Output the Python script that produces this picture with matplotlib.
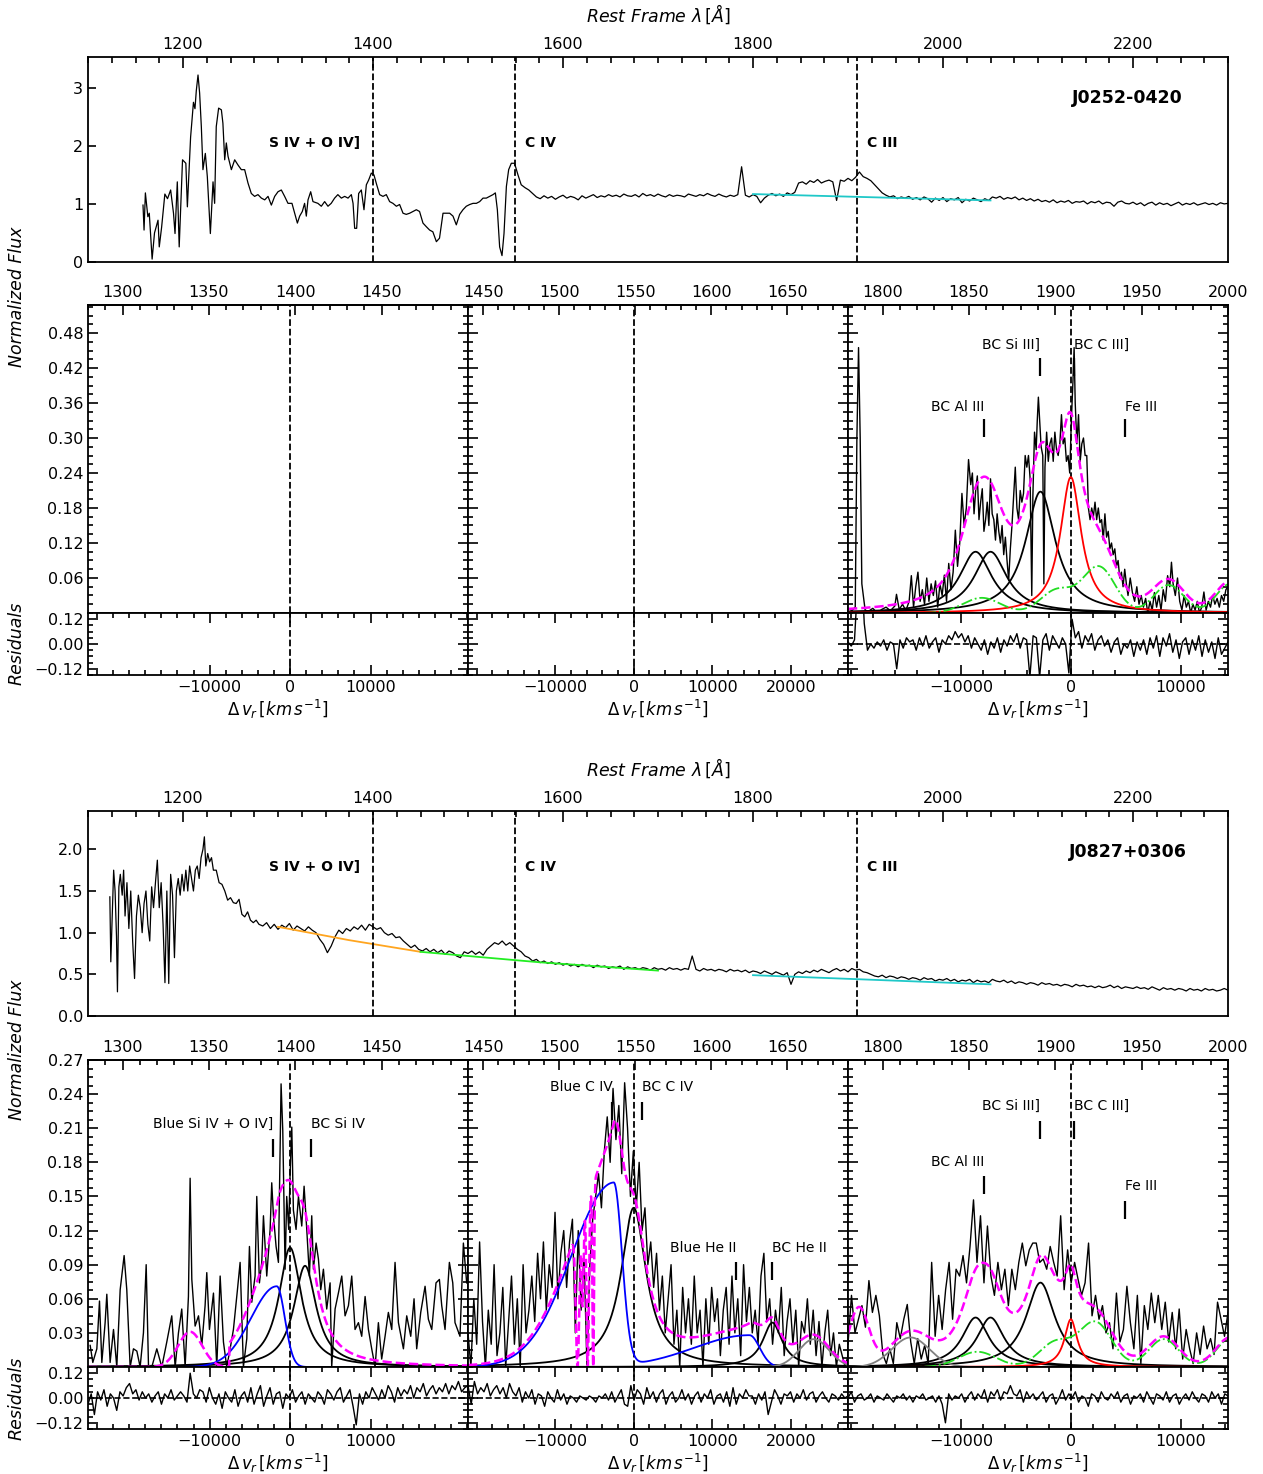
import numpy as np
import matplotlib.pyplot as plt
from matplotlib.ticker import MultipleLocator, AutoMinorLocator, FixedLocator

plt.rcParams['axes.linewidth'] = 1.3
plt.rcParams['font.size'] = 11.5

C_KMS = 299792.458
W, H = 1263, 1474

# ---------------- J0252-0420 : full rest-frame spectrum ----------------
j0252_wave_a = [1157.9, 1159.0, 1160.4, 1163.0, 1164.5, 1167.5, 1170.0, 1173.7, 1175.0, 1177.5,
                1180.9, 1183.7, 1187.0, 1190.0, 1191.6, 1194.0, 1196.0, 1199.5, 1203.0, 1204.6,
                1208.0, 1211.0, 1212.6, 1214.0, 1215.8, 1217.5, 1219.3, 1221.0, 1223.5, 1225.6,
                1228.8, 1231.6, 1233.3, 1235.0, 1237.5, 1240.4, 1242.0, 1243.9, 1245.6, 1247.4,
                1250.9, 1254.4, 1257.9, 1261.4, 1264.9, 1268.4, 1271.9, 1275.4, 1278.9, 1282.5,
                1286.0, 1289.5, 1293.0, 1296.5, 1300.0, 1303.5, 1307.0, 1310.5, 1314.7, 1317.5,
                1320.4, 1322.8, 1325.6, 1328.0, 1329.8, 1331.6, 1334.4, 1336.8, 1342.0, 1345.6,
                1349.1, 1352.6, 1356.0, 1359.6, 1363.0, 1366.7, 1370.2, 1373.7, 1377.2, 1379.0,
                1380.7, 1382.8, 1384.9, 1387.7, 1390.5, 1393.0, 1395.4, 1398.2, 1401.0, 1403.9,
                1407.0, 1410.5, 1414.0, 1417.5, 1421.0, 1424.6, 1428.0, 1431.6, 1435.0, 1438.6,
                1442.0, 1445.6, 1449.0, 1452.6, 1456.0, 1459.6, 1463.0, 1466.7, 1470.0, 1473.7,
                1477.2, 1480.7, 1484.2, 1487.7, 1491.2, 1494.7, 1498.2, 1501.8, 1505.3, 1508.8,
                1512.3, 1515.8, 1519.3, 1522.8, 1526.3, 1528.8, 1530.9, 1533.3, 1535.8, 1537.9,
                1540.4, 1542.8, 1545.6, 1549.0, 1552.6, 1556.0, 1560.0]
j0252_flux_a = [0.98, 0.55, 1.19, 0.78, 0.84, 0.05, 0.50, 0.72, 0.26, 0.60,
                1.17, 1.09, 1.24, 0.84, 0.49, 1.38, 0.26, 1.76, 1.70, 0.95,
                2.15, 2.75, 2.64, 2.95, 3.22, 2.91, 2.33, 1.59, 1.87, 1.47,
                0.49, 1.38, 1.01, 2.33, 2.65, 2.62, 2.39, 1.76, 2.05, 1.82,
                1.59, 1.76, 1.67, 1.59, 1.59, 1.36, 1.18, 1.13, 1.16, 1.10,
                1.07, 1.13, 0.98, 1.13, 1.21, 1.24, 1.13, 1.01, 1.01, 0.84,
                0.67, 0.79, 0.87, 1.01, 0.79, 1.07, 1.21, 1.04, 1.01, 0.96,
                1.04, 0.96, 1.01, 1.10, 1.16, 1.10, 1.13, 1.10, 1.16, 1.01,
                0.58, 0.58, 1.18, 1.24, 0.90, 1.33, 1.41, 1.53, 1.50, 1.33,
                1.16, 1.13, 1.16, 1.04, 1.01, 0.96, 0.99, 0.84, 0.82, 0.84,
                0.87, 0.90, 0.87, 0.67, 0.61, 0.55, 0.52, 0.35, 0.41, 0.84,
                0.84, 0.84, 0.79, 0.64, 0.82, 0.90, 0.96, 0.99, 1.01, 1.01,
                1.04, 1.10, 1.10, 1.13, 1.16, 1.19, 0.90, 0.26, 0.11, 0.49,
                1.30, 1.59, 1.70, 1.70, 1.50, 1.33, 1.28]
j0252_wave_b = np.arange(1564, 2301, 4)
j0252_flux_b = [1.24, 1.18, 1.12, 1.09, 1.14, 1.10, 1.13, 1.08, 1.12, 1.15,
                1.10, 1.13, 1.11, 1.07, 1.14, 1.10, 1.13, 1.16, 1.11, 1.14,
                1.12, 1.16, 1.13, 1.15, 1.12, 1.17, 1.14, 1.13, 1.16, 1.12,
                1.18, 1.14, 1.16, 1.13, 1.17, 1.14, 1.12, 1.16, 1.13, 1.15,
                1.14, 1.12, 1.17, 1.15, 1.13, 1.16, 1.14, 1.18, 1.15, 1.13,
                1.17, 1.14, 1.12, 1.15, 1.13, 1.16, 1.64, 1.15, 1.12, 1.16,
                1.13, 1.02, 1.10, 1.15, 1.18, 1.14, 1.17, 1.13, 1.19, 1.16,
                1.20, 1.36, 1.38, 1.34, 1.40, 1.37, 1.42, 1.36, 1.39, 1.41,
                1.38, 1.06, 1.41, 1.39, 1.44, 1.40, 1.46, 1.55, 1.47, 1.44,
                1.40, 1.33, 1.26, 1.19, 1.15, 1.12, 1.14, 1.09, 1.12, 1.10,
                1.13, 1.08, 1.11, 1.07, 1.12, 1.09, 1.03, 1.10, 1.06, 1.11,
                1.04, 1.09, 1.07, 1.11, 1.02, 1.08, 1.05, 1.10, 1.07, 1.04,
                1.09, 1.06, 1.12, 1.10, 1.13, 1.08, 1.11, 1.09, 1.12, 1.07,
                1.10, 1.06, 1.09, 1.05, 1.08, 1.04, 1.06, 1.03, 1.07, 1.02,
                1.05, 1.03, 1.06, 1.01, 1.04, 1.03, 1.05, 1.00, 1.04, 1.02,
                1.05, 1.00, 1.03, 1.02, 0.96, 1.03, 1.05, 1.01, 1.00, 1.03,
                0.99, 1.02, 0.97, 1.01, 1.03, 0.98, 1.02, 0.99, 1.01, 0.97,
                1.00, 1.03, 0.98, 1.01, 0.99, 1.02, 0.98, 1.00, 1.02, 0.99,
                1.01, 0.98, 1.02, 1.00, 1.01]
j0252_cont = [([1800, 2050], [1.17, 1.06], '#1fc8c8')]

# ---------------- J0827+0306 : full rest-frame spectrum ----------------
j0827_wave_a = [1123, 1124, 1125.5, 1127, 1128.5, 1130, 1131, 1132.5, 1134, 1136,
                1137.5, 1139, 1141, 1143, 1145, 1147, 1149, 1151, 1153, 1155,
                1157, 1159, 1161, 1163, 1165, 1167, 1169, 1171, 1173, 1175,
                1177, 1179, 1181, 1183, 1185, 1187, 1189, 1191, 1193, 1195,
                1197, 1199, 1201, 1203, 1205, 1207, 1209, 1211, 1213, 1215,
                1217, 1219, 1221, 1222.5, 1224, 1226, 1228, 1230, 1232, 1235,
                1238, 1241, 1244, 1247, 1250, 1253, 1256, 1259, 1262, 1265,
                1268, 1271, 1274, 1277, 1280]
j0827_flux_a = [1.43, 0.65, 1.20, 1.75, 1.50, 0.95, 0.29, 1.55, 1.70, 1.45,
                1.75, 1.20, 1.60, 1.05, 1.50, 0.90, 0.45, 1.20, 1.45, 1.30,
                1.00, 1.35, 1.50, 1.10, 0.90, 1.55, 1.30, 1.60, 1.87, 1.30,
                1.60, 1.10, 0.40, 1.50, 0.39, 1.70, 1.45, 0.70, 1.50, 1.65,
                1.45, 1.70, 1.50, 1.75, 1.50, 1.80, 1.65, 1.50, 1.75, 1.80,
                1.65, 1.90, 2.00, 2.15, 1.80, 1.95, 1.85, 1.90, 1.75, 1.75,
                1.60, 1.58, 1.50, 1.39, 1.42, 1.36, 1.35, 1.40, 1.22, 1.19,
                1.25, 1.15, 1.12, 1.15, 1.10]
j0827_wave_b = np.arange(1284, 2301, 4)
j0827_flux_b = [1.08, 1.12, 1.05, 1.10, 1.04, 1.09, 1.06, 1.11, 1.03, 1.08,
                1.05, 1.02, 1.07, 1.03, 1.00, 0.92, 0.86, 0.76, 0.84, 0.95,
                1.03, 0.99, 1.05, 1.02, 1.07, 1.04, 1.09, 1.03, 1.10, 1.07,
                1.04, 1.06, 1.00, 0.97, 0.99, 0.94, 0.95, 0.90, 0.86, 0.82,
                0.85, 0.80, 0.78, 0.81, 0.77, 0.80, 0.76, 0.79, 0.74, 0.78,
                0.76, 0.72, 0.70, 0.77, 0.75, 0.78, 0.74, 0.77, 0.73, 0.80,
                0.84, 0.88, 0.86, 0.90, 0.85, 0.88, 0.84, 0.80, 0.77, 0.72,
                0.70, 0.66, 0.68, 0.64, 0.66, 0.63, 0.65, 0.62, 0.64, 0.61,
                0.63, 0.60, 0.62, 0.59, 0.62, 0.60, 0.61, 0.58, 0.61, 0.59,
                0.60, 0.57, 0.59, 0.58, 0.60, 0.56, 0.59, 0.57, 0.58, 0.56,
                0.58, 0.57, 0.55, 0.58, 0.56, 0.57, 0.55, 0.58, 0.56, 0.57,
                0.55, 0.57, 0.56, 0.72, 0.56, 0.54, 0.57, 0.55, 0.56, 0.54,
                0.56, 0.55, 0.53, 0.56, 0.54, 0.55, 0.53, 0.55, 0.52, 0.54,
                0.53, 0.51, 0.54, 0.52, 0.50, 0.53, 0.51, 0.49, 0.52, 0.38,
                0.50, 0.53, 0.51, 0.54, 0.52, 0.55, 0.53, 0.56, 0.54, 0.52,
                0.55, 0.57, 0.54, 0.56, 0.53, 0.57, 0.55, 0.56, 0.53, 0.52,
                0.50, 0.48, 0.47, 0.49, 0.46, 0.48, 0.47, 0.45, 0.47, 0.46,
                0.44, 0.46, 0.45, 0.43, 0.46, 0.44, 0.45, 0.42, 0.44, 0.43,
                0.45, 0.42, 0.44, 0.41, 0.43, 0.42, 0.44, 0.40, 0.43, 0.41,
                0.42, 0.40, 0.44, 0.42, 0.41, 0.43, 0.40, 0.42, 0.39, 0.41,
                0.40, 0.38, 0.40, 0.39, 0.37, 0.40, 0.38, 0.39, 0.37, 0.38,
                0.36, 0.38, 0.37, 0.35, 0.38, 0.36, 0.37, 0.35, 0.36, 0.34,
                0.36, 0.34, 0.35, 0.37, 0.34, 0.36, 0.33, 0.35, 0.34, 0.33,
                0.35, 0.33, 0.34, 0.32, 0.35, 0.33, 0.31, 0.34, 0.32, 0.33,
                0.31, 0.33, 0.32, 0.30, 0.33, 0.31, 0.32, 0.30, 0.33, 0.31,
                0.32, 0.30, 0.31, 0.33, 0.31]
j0827_cont = [([1300, 1375, 1450], [1.07, 0.91, 0.77], '#ffa51f'),
              ([1450, 1575, 1700], [0.77, 0.645, 0.545], '#22ee22'),
              ([1800, 2050], [0.49, 0.38], '#1fc8c8')]

# ---------------- J0252-0420 : C III] blend fit ----------------
j0252_ciii_v = [-20250, -19900, -19600, -19450, -19300, -19150, -19000, -18700, -18400, -18000,
                -17600, -17200, -16800, -16400, -16000, -15850, -15600, -15300, -15000, -14700,
                -14500, -14300, -14100, -13900, -13700, -13500, -13300, -13100, -12900, -12700,
                -12500, -12300, -12100, -11900, -11700, -11500, -11300, -11100, -10900, -10700,
                -10500, -10300, -10100, -9900, -9700, -9500, -9300, -9100, -8950, -8800,
                -8650, -8500, -8350, -8200, -8050, -7900, -7750, -7600, -7450, -7300,
                -7150, -7000, -6850, -6700, -6550, -6400, -6250, -6100, -5950, -5800,
                -5650, -5500, -5350, -5200, -5050, -4900, -4750, -4600, -4450, -4300,
                -4150, -4000, -3850, -3700, -3550, -3450, -3300, -3150, -3050, -2950,
                -2850, -2700, -2550, -2450, -2350, -2200, -2050, -1900, -1750, -1600,
                -1450, -1300, -1150, -1000, -850, -700, -550, -400, -250, -100,
                50, 200, 300, 400, 550, 700, 850, 1000, 1150, 1300,
                1450, 1600, 1750, 1900, 2050, 2200, 2350, 2500, 2650, 2800,
                2950, 3100, 3250, 3400, 3550, 3700, 3850, 4000, 4150, 4300,
                4450, 4600, 4750, 4900, 5050, 5200, 5400, 5600, 5800, 6000,
                6200, 6400, 6600, 6800, 7000, 7200, 7400, 7600, 7800, 8000,
                8200, 8400, 8600, 8800, 9000, 9150, 9300, 9500, 9700, 9900,
                10100, 10300, 10500, 10700, 10900, 11100, 11300, 11500, 11700, 11900,
                12100, 12300, 12500, 12700, 12900, 13100, 13300, 13500, 13700, 13900,
                14100, 14290]
j0252_ciii_f = [0.008, 0.004, 0.010, 0.300, 0.455, 0.300, 0.050, 0.005, 0.003, 0.008,
                0.000, 0.006, 0.010, 0.004, 0.012, 0.032, 0.006, 0.015, 0.004, 0.020,
                0.064, 0.010, 0.045, 0.070, 0.020, 0.040, 0.015, 0.060, 0.020, 0.050,
                0.030, 0.055, 0.010, 0.050, 0.030, 0.065, 0.020, 0.085, 0.040, 0.070,
                0.142, 0.080, 0.120, 0.205, 0.150, 0.180, 0.263, 0.220, 0.240, 0.170,
                0.210, 0.235, 0.160, 0.190, 0.213, 0.140, 0.160, 0.190, 0.150, 0.230,
                0.170, 0.160, 0.125, 0.170, 0.140, 0.120, 0.150, 0.100, 0.130, 0.090,
                0.056, 0.110, 0.150, 0.200, 0.250, 0.180, 0.160, 0.210, 0.190, 0.205,
                0.270, 0.250, 0.270, 0.230, 0.030, 0.200, 0.310, 0.280, 0.330, 0.370,
                0.335, 0.285, 0.270, 0.050, 0.250, 0.310, 0.260, 0.290, 0.300, 0.260,
                0.310, 0.280, 0.270, 0.290, 0.340, 0.290, 0.300, 0.260, 0.270, 0.240,
                0.330, 0.400, 0.455, 0.360, 0.290, 0.340, 0.260, 0.290, 0.300, 0.270,
                0.270, 0.180, 0.160, 0.180, 0.165, 0.190, 0.160, 0.180, 0.155, 0.160,
                0.125, 0.170, 0.130, 0.140, 0.110, 0.120, 0.100, 0.110, 0.080, 0.090,
                0.060, 0.070, 0.045, 0.075, 0.050, 0.030, 0.060, 0.035, 0.020, 0.045,
                0.015, 0.030, 0.010, 0.025, 0.000, 0.020, 0.005, 0.035, 0.010, 0.030,
                0.005, 0.040, 0.020, 0.064, 0.045, 0.087, 0.050, 0.030, 0.060, 0.020,
                0.005, 0.030, 0.010, 0.020, 0.000, 0.015, 0.005, 0.020, 0.000, 0.010,
                0.036, 0.005, 0.020, 0.010, 0.030, 0.015, 0.025, 0.010, 0.030, 0.020,
                0.040, 0.045]
j0252_ciii_res = [0.01, -0.01, 0.02, 0.30, 0.45, 0.10, -0.03, 0.00, -0.02, 0.01,
                  -0.01, 0.02, -0.03, 0.01, 0.00, -0.12, 0.02, -0.02, 0.03, 0.01,
                  0.02, -0.03, 0.03, -0.01, 0.04, -0.02, 0.01, 0.03, -0.04, 0.02,
                  0.00, 0.04, 0.02, 0.06, 0.03, 0.05, 0.01, 0.04, -0.02, 0.03,
                  0.00, -0.03, 0.02, -0.05, 0.01, -0.02, 0.03, -0.04, 0.02, -0.01,
                  0.04, 0.01, 0.05, -0.02, 0.03, 0.02, -0.16, 0.04, 0.03, -0.16,
                  0.02, 0.05, -0.03, 0.04, 0.01, -0.02, 0.03, 0.00, -0.14, 0.12,
                  0.03, 0.06, -0.02, 0.04, 0.01, 0.05, -0.03, 0.02, 0.04, -0.01,
                  0.02, -0.04, 0.01, 0.03, -0.05, 0.00, -0.02, 0.02, -0.06, 0.01,
                  -0.03, 0.02, -0.05, 0.03, -0.02, 0.04, -0.06, 0.03, -0.01, 0.05,
                  -0.04, 0.02, -0.07, 0.01, 0.03, -0.05, 0.02, -0.03, 0.04, -0.06,
                  0.02, -0.04, 0.01, -0.07, 0.03, -0.05, -0.02, 0.01]
# (amplitude, centre km/s, FWHM km/s)
j0252_ciii_black = [(0.105, -8660, 3600), (0.105, -7300, 3600), (0.208, -2760, 3300)]
j0252_ciii_red = (0.233, 0, 2300)
j0252_ciii_fe = [(0.026, -8100, 4000), (0.039, -1270, 3500), (0.079, 2545, 3500),
                 (0.048, 8900, 3200), (0.050, 14500, 3000)]

# ---------------- J0827+0306 : Si IV + O IV] fit ----------------
j0827_siiv_v = [-24840, -24510, -24010, -23680, -23390, -22980, -22770, -22360, -21940, -21530,
                -21110, -20620, -20290, -19870, -19460, -19040, -18630, -18220, -17880, -17590,
                -17180, -16560, -15940, -15320, -14700, -14280, -13870, -13460, -13040, -12630,
                -12420, -12210, -11800, -11380, -10970, -10560, -10350, -10020, -9520, -9110,
                -8690, -8280, -7870, -7450, -7040, -6540, -6210, -5800, -5380, -5050,
                -4760, -4350, -4140, -3810, -3520, -3310, -2900, -2480, -2280, -2070,
                -1740, -1450, -1120, -910, -620, -420, -170, 0, 210, 410,
                740, 1040, 1450, 1740, 2070, 2400, 2690, 2900, 3230, 3520,
                3810, 4140, 4550, 4970, 5170, 5590, 6000, 6420, 6830, 7250,
                7660, 8070, 8490, 8900, 9320, 9730, 10140, 10560, 10970, 11380,
                11800, 12210, 12630, 13040, 13460, 14080, 14490, 14990, 15400, 15730,
                16230, 16770, 17180, 17600, 18130, 18550, 18840, 19250, 19790, 20210,
                20490, 21110, 21530, 21940]
j0827_siiv_f = [0.019, 0.004, 0.016, 0.058, 0.004, 0.039, 0.064, 0.004, 0.033, 0.000,
                0.068, 0.098, 0.068, 0.000, 0.016, 0.014, 0.000, 0.030, 0.090, 0.000,
                0.000, 0.016, 0.000, 0.022, 0.045, 0.000, 0.030, 0.051, 0.000, 0.062,
                0.166, 0.077, 0.036, 0.045, 0.019, 0.054, 0.083, 0.033, 0.065, 0.000,
                0.080, 0.022, 0.000, 0.016, 0.033, 0.068, 0.092, 0.000, 0.025, 0.106,
                0.057, 0.080, 0.150, 0.074, 0.092, 0.133, 0.080, 0.121, 0.162, 0.133,
                0.106, 0.092, 0.249, 0.208, 0.086, 0.150, 0.121, 0.170, 0.211, 0.138,
                0.121, 0.150, 0.124, 0.159, 0.121, 0.080, 0.133, 0.086, 0.109, 0.095,
                0.068, 0.086, 0.051, 0.074, 0.000, 0.051, 0.065, 0.080, 0.045, 0.054,
                0.080, 0.033, 0.039, 0.027, 0.062, 0.033, 0.016, 0.000, 0.039, 0.007,
                0.027, 0.048, 0.033, 0.092, 0.039, 0.016, 0.045, 0.027, 0.060, 0.016,
                0.048, 0.071, 0.042, 0.033, 0.074, 0.077, 0.054, 0.033, 0.092, 0.074,
                0.039, 0.027, 0.109, 0.074]
j0827_siiv_res = [-0.03, 0.02, -0.08, 0.03, -0.01, 0.04, -0.04, 0.02, 0.00, -0.06,
                  0.03, 0.01, 0.05, 0.07, 0.02, 0.04, -0.01, 0.03, 0.00, 0.02,
                  -0.02, 0.01, 0.03, -0.03, 0.02, 0.00, 0.04, -0.01, 0.01, 0.03,
                  0.01, -0.02, 0.12, 0.02, 0.00, 0.04, 0.03, -0.02, 0.05, 0.00,
                  -0.03, 0.02, -0.05, 0.03, 0.00, -0.02, 0.04, -0.04, 0.01, 0.03,
                  -0.02, 0.05, -0.03, 0.02, 0.06, -0.04, 0.01, 0.05, -0.03, 0.02,
                  0.03, -0.05, 0.02, 0.00, 0.04, -0.02, 0.01, 0.03, -0.03, 0.02,
                  0.00, -0.02, 0.03, 0.01, -0.03, 0.04, 0.02, -0.01, 0.03, 0.05,
                  -0.02, 0.01, 0.04, -0.04, -0.13, 0.02, -0.03, 0.03, 0.00, 0.05,
                  0.02, -0.01, 0.04, 0.00, 0.06, 0.03, -0.02, 0.05, 0.01, 0.04,
                  0.02, 0.06, 0.00, 0.05, 0.03, 0.07, 0.01, 0.04, 0.06, 0.02,
                  0.05, 0.03, 0.07, 0.02, 0.06, 0.04, 0.08, 0.03, 0.05, 0.06]
j0827_siiv_black = [(0.105, 0, 3400), (0.089, 1860, 3400)]
j0827_siiv_blue = (0.071, -1650, 3200, 1000)   # amp, centre, sigma blue side, sigma red side
j0827_siiv_extra = (0.031, -12420, 3500)
j0827_siiv_cut = -7550

# ---------------- J0827+0306 : C IV + He II fit ----------------
j0827_civ_f = [0.03, 0.00, 0.06, 0.02, 0.11, 0.04, 0.00, 0.05, 0.02, 0.09, 0.01,
               0.03, 0.07, 0.00, 0.04, 0.08, 0.02, 0.06, 0.00, 0.09, 0.03, 0.05,
               0.08, 0.04, 0.10, 0.06, 0.11, 0.05, 0.09, 0.07, 0.136, 0.06, 0.10,
               0.12, 0.07, 0.11, 0.13, 0.03, 0.12, 0.05, 0.10, 0.00, 0.09, 0.13,
               0.15, 0.17, 0.14, 0.19, 0.22, 0.18, 0.245, 0.20, 0.23, 0.17, 0.25,
               0.21, 0.15, 0.19, 0.14, 0.18, 0.12, 0.14, 0.09, 0.11, 0.07, 0.10,
               0.05, 0.08, 0.03, 0.06, 0.09, 0.02, 0.05, 0.00, 0.07, 0.03, 0.06,
               0.02, 0.08, 0.03, 0.05, 0.00, 0.06, 0.02, 0.07, 0.04, 0.06, 0.01,
               0.05, 0.07, 0.02, 0.08, 0.03, 0.06, 0.01, 0.09, 0.04, 0.07, 0.03,
               0.05, 0.02, 0.08, 0.10, 0.04, 0.06, 0.02, 0.05, 0.03, 0.07, 0.01,
               0.04, 0.06, 0.02, 0.05, 0.00, 0.04, 0.03, 0.06, 0.02, 0.05, 0.01,
               0.04, 0.00, 0.03, 0.05, 0.01, 0.03, 0.00, 0.02, 0.01, 0.00, 0.01]
j0827_civ_res = [0.06, -0.03, 0.08, 0.02, 0.05, 0.03, 0.07, 0.01, 0.04, 0.06,
                 0.02, 0.05, 0.00, 0.07, 0.03, 0.01, 0.05, -0.02, 0.03, 0.00,
                 0.04, -0.03, 0.02, 0.01, -0.04, 0.03, 0.00, -0.02, 0.04, -0.01,
                 0.02, -0.03, 0.01, 0.00, -0.02, 0.01, 0.00, -0.01, 0.01, 0.00,
                 -0.02, 0.01, 0.00, 0.02, -0.01, 0.03, -0.02, 0.01, 0.04, -0.03,
                 -0.04, 0.06, -0.01, 0.04, 0.02, -0.03, 0.05, 0.00, 0.03, -0.02,
                 0.02, 0.04, -0.03, 0.01, 0.03, -0.02, 0.00, 0.04, -0.01, 0.02,
                 -0.03, 0.01, 0.03, -0.02, 0.02, 0.00, 0.04, -0.03, 0.01, 0.02,
                 -0.02, 0.03, -0.04, 0.05, -0.03, 0.02, 0.00, 0.04, 0.01, 0.01,
                 -0.03, 0.02, -0.01, 0.03, -0.08, -0.02, 0.04, 0.01, -0.03, 0.02,
                 0.01, 0.03, -0.02, 0.02, 0.00, 0.04, -0.01, 0.02, 0.03, -0.02,
                 0.01, 0.03, 0.00, -0.02, 0.02, 0.01, -0.01, 0.02, 0.00, 0.01]
j0827_civ_black = [(0.140, 0, 3900), (0.039, 17660, 3000)]
j0827_civ_blue = [(0.161, -2540, 5400, 1050), (0.028, 14740, 7000, 1300)]
j0827_civ_gray = (0.0245, 22950, 4500)
j0827_civ_abs = [(-7150, 220, 1.0), (-6500, 120, 0.6), (-5850, 150, 1.0), (-5150, 100, 1.0)]

# ---------------- J0827+0306 : C III] blend fit ----------------
j0827_ciii_f = [0.020, 0.063, 0.030, 0.042, 0.054, 0.035, 0.076, 0.048, 0.063, 0.045,
                0.011, 0.003, 0.016, 0.003, 0.039, 0.025, 0.042, 0.055, 0.022, 0.003,
                0.025, 0.007, 0.019, 0.003, 0.092, 0.027, 0.063, 0.033, 0.068, 0.092,
                0.042, 0.086, 0.080, 0.098, 0.074, 0.106, 0.147, 0.092, 0.133, 0.074,
                0.124, 0.080, 0.063, 0.092, 0.068, 0.086, 0.054, 0.086, 0.068, 0.092,
                0.109, 0.089, 0.103, 0.109, 0.109, 0.092, 0.095, 0.086, 0.106, 0.092,
                0.080, 0.133, 0.068, 0.103, 0.074, 0.092, 0.077, 0.063, 0.074, 0.109,
                0.045, 0.063, 0.042, 0.054, 0.030, 0.039, 0.016, 0.065, 0.022, 0.033,
                0.071, 0.039, 0.016, 0.063, 0.003, 0.054, 0.033, 0.065, 0.039, 0.063,
                0.033, 0.057, 0.022, 0.048, 0.016, 0.051, 0.007, 0.033, 0.016, 0.003,
                0.030, 0.011, 0.036, 0.016, 0.025, 0.011, 0.057, 0.042, 0.027, 0.048]
j0827_ciii_res = [0.00, 0.03, -0.02, 0.01, 0.02, -0.01, 0.00, 0.02, -0.02, 0.01,
                  0.00, -0.01, 0.02, 0.00, -0.02, 0.01, 0.00, 0.02, -0.01, 0.01,
                  -0.02, 0.01, 0.00, 0.02, -0.01, 0.00, 0.01, -0.02, 0.01, -0.03,
                  -0.12, 0.02, -0.01, 0.01, 0.00, 0.02, -0.02, 0.01, 0.03, -0.01,
                  0.02, 0.00, 0.04, -0.02, 0.03, 0.01, 0.04, -0.01, 0.03, 0.02,
                  0.06, 0.02, 0.01, 0.04, -0.02, 0.03, 0.00, 0.02, -0.01, 0.01,
                  0.03, -0.02, 0.01, 0.02, -0.03, 0.00, 0.04, -0.01, 0.02, 0.00,
                  0.03, -0.02, 0.01, 0.00, -0.04, 0.02, 0.01, -0.02, 0.03, 0.00,
                  -0.01, 0.02, 0.00, 0.03, -0.02, 0.01, 0.02, -0.03, 0.01, 0.00,
                  0.02, -0.02, 0.03, 0.00, -0.03, 0.02, 0.01, -0.01, 0.03, -0.02,
                  0.01, 0.02, -0.03, 0.00, 0.02, -0.01, 0.03, 0.00, -0.02, 0.02,
                  0.01, -0.02, 0.03, 0.00, 0.02, -0.03, 0.02, 0.01]
j0827_ciii_black = [(0.0435, -8660, 3000), (0.0435, -7300, 3000), (0.0742, -2760, 3200)]
j0827_ciii_red = (0.042, 0, 1400)
j0827_ciii_fe = [(0.0134, -8500, 4000), (0.0216, -1390, 3500), (0.039, 2240, 3500),
                 (0.0245, 8450, 3200), (0.025, 14500, 3000)]
j0827_ciii_gray = (0.026, -14570, 4000)
j0827_ciii_extra = (0.050, -19270, 2100)

# rest wavelengths and plotted windows
lam0 = [1397.0, 1549.0, 1909.0]
lam_win = [(1280, 1500), (1440, 1690), (1780, 2000)]
lam_ticks = [[1300, 1350, 1400, 1450], [1450, 1500, 1550, 1600, 1650],
             [1800, 1850, 1900, 1950, 2000]]
v_ticks = [[-10000, 0, 10000], [-10000, 0, 10000, 20000], [-10000, 0, 10000]]


def lorentz(v, amp, cen, fwhm):
    return amp / (1.0 + ((v - cen) / (0.5 * fwhm)) ** 2)


def gauss(v, amp, cen, fwhm):
    return amp * np.exp(-4 * np.log(2) * ((v - cen) / fwhm) ** 2)


def asym_gauss(v, amp, cen, sig_b, sig_r):
    sig = np.where(v < cen, sig_b, sig_r)
    return amp * np.exp(-0.5 * ((v - cen) / sig) ** 2)


def rect(x0, y0, x1, y1):
    return [x0 / W, 1 - y1 / H, (x1 - x0) / W, (y1 - y0) / H]


fig = plt.figure(figsize=(W / 100, H / 100), dpi=100)


def overview(top, bot, wa, fa, wb, fb, conts, name, ymax, yticks, ylab):
    ax = fig.add_axes(rect(88, top, 1228, bot))
    ax.plot(np.concatenate([wa, wb]), np.concatenate([fa, fb]), color='k', lw=0.9)
    for w, f, c in conts:
        ax.plot(w, f, color=c, lw=1.3)
    for lam in (1400, 1549, 1909):
        ax.axvline(lam, color='k', ls='--', lw=1.3)
    ax.set_xlim(1100, 2300)
    ax.set_ylim(0, ymax)
    ax.set_yticks(yticks)
    ax.xaxis.set_major_locator(MultipleLocator(200))
    ax.xaxis.set_minor_locator(MultipleLocator(25))
    ax.tick_params(axis='x', which='both', direction='in', top=True, bottom=False,
                   labeltop=True, labelbottom=False)
    ax.tick_params(axis='x', which='major', length=8, width=1.2)
    ax.tick_params(axis='x', which='minor', length=4, width=1.2)
    ax.tick_params(axis='y', direction='in', length=6, width=1.2)
    ax.text(1386, ylab, 'S IV + O IV]', ha='right', va='center', fontsize=10, fontweight='bold')
    ax.text(1560, ylab, 'C IV', ha='left', va='center', fontsize=10, fontweight='bold')
    ax.text(1920, ylab, 'C III', ha='left', va='center', fontsize=10, fontweight='bold')
    ax.text(0.912, 0.80, name, transform=ax.transAxes, ha='center', va='center',
            fontsize=12.5, fontweight='bold')
    return ax


def column(i, top, mid, bot, ymax, yticks):
    x0, x1 = [88, 468, 848, 1228][i], [88, 468, 848, 1228][i + 1]
    l0 = lam0[i]
    ax = fig.add_axes(rect(x0, top, x1, mid))
    axr = fig.add_axes(rect(x0, mid, x1, bot))
    vlim = [C_KMS * (l / l0 - 1) for l in lam_win[i]]
    for a in (ax, axr):
        a.set_xlim(vlim)
        a.axvline(0, color='k', ls='--', lw=1.3)
        a.xaxis.set_major_locator(FixedLocator(v_ticks[i]))
        a.xaxis.set_minor_locator(MultipleLocator(2000))
        a.tick_params(which='both', direction='in', left=True, right=True, width=1.2)
        a.tick_params(which='major', length=7)
        a.tick_params(which='minor', length=3.5)
    ax.tick_params(axis='x', which='both', bottom=False, top=False, labelbottom=False)
    axr.tick_params(axis='x', which='both', top=True, bottom=True, labelbottom=True)
    ax.set_ylim(0, ymax)
    ax.set_yticks(yticks)
    ax.yaxis.set_minor_locator(AutoMinorLocator(4))
    axr.set_ylim(-0.15, 0.15)
    axr.set_yticks([-0.12, 0.0, 0.12])
    axr.yaxis.set_minor_locator(MultipleLocator(0.03))
    if i > 0:
        ax.tick_params(labelleft=False)
        axr.tick_params(labelleft=False)
    sec = ax.secondary_xaxis('top', functions=(lambda v: l0 * (1 + v / C_KMS),
                                               lambda l: C_KMS * (l / l0 - 1)))
    sec.set_xticks(lam_ticks[i])
    sec.xaxis.set_minor_locator(MultipleLocator(10))
    sec.tick_params(which='both', direction='in', width=1.2)
    sec.tick_params(which='major', length=7)
    sec.tick_params(which='minor', length=3.5)
    axr.set_xlabel(r'$\Delta\,v_r\,[km\,s^{-1}]$', fontsize=12, labelpad=2)
    vm = np.linspace(vlim[0], vlim[1], 2000)
    return ax, axr, vm, vlim


def line_marks(ax, marks):
    for txt, xv, ytxt, ytick, ha in marks:
        ax.text(xv, ytxt, txt, ha=ha, va='center', fontsize=10)
        ax.plot([xv], [ytick], marker='|', ms=13, mew=1.6, color='k')


# ---------------- block 1 : J0252-0420 ----------------
overview(57, 262, j0252_wave_a, j0252_flux_a, j0252_wave_b, j0252_flux_b, j0252_cont,
         'J0252-0420', 3.53, [0, 1, 2, 3], 2.05)
fig.text(658 / W, 1 - 14 / H, r'$Rest\ Frame\ \lambda\,[\AA]$', ha='center', va='center', fontsize=12.5)

b1_yt = [0.06, 0.12, 0.18, 0.24, 0.30, 0.36, 0.42, 0.48]
for i in range(2):
    column(i, 305, 613, 675, 0.528, b1_yt)

ax, axr, vm, vlim = column(2, 305, 613, 675, 0.528, b1_yt)
ax.plot(j0252_ciii_v, j0252_ciii_f, color='k', lw=1.0)
total = np.zeros_like(vm)
for p in j0252_ciii_black:
    comp = lorentz(vm, *p)
    total += comp
    ax.plot(vm, comp, color='k', lw=1.3)
comp = lorentz(vm, *j0252_ciii_red)
total += comp
ax.plot(vm, comp, color='red', lw=1.3)
fe = sum(gauss(vm, *p) for p in j0252_ciii_fe)
total += fe
ax.plot(vm, fe, color='#22dd22', lw=1.3, ls='-.')
ax.plot(vm, total, color='magenta', lw=1.8, ls='--')
line_marks(ax, [('BC Al III', -7880, 0.353, 0.317, 'right'),
                ('BC Si III]', -2760, 0.46, 0.422, 'right'),
                ('BC C III]', 300, 0.46, 0.422, 'left'),
                ('Fe III', 4970, 0.353, 0.317, 'left')])
axr.plot(np.linspace(vlim[0], vlim[1], len(j0252_ciii_res)), j0252_ciii_res, color='k', lw=1.0)
axr.axhline(0, color='k', ls='--', lw=1.2)

fig.text(17 / W, 1 - 297 / H, 'Normalized Flux', rotation=90, ha='center', va='center',
         fontsize=12.5, style='italic')
fig.text(17 / W, 1 - 643 / H, 'Residuals', rotation=90, ha='center', va='center',
         fontsize=12.5, style='italic')

# ---------------- block 2 : J0827+0306 ----------------
overview(811, 1016, j0827_wave_a, j0827_flux_a, j0827_wave_b, j0827_flux_b, j0827_cont,
         'J0827+0306', 2.46, [0.0, 0.5, 1.0, 1.5, 2.0], 1.79)
fig.text(658 / W, 1 - 768 / H, r'$Rest\ Frame\ \lambda\,[\AA]$', ha='center', va='center', fontsize=12.5)

b2_yt = [0.03, 0.06, 0.09, 0.12, 0.15, 0.18, 0.21, 0.24, 0.27]

# Si IV + O IV]
ax, axr, vm, vlim = column(0, 1060, 1367, 1429, 0.27, b2_yt)
ax.plot(j0827_siiv_v, j0827_siiv_f, color='k', lw=1.0)
total = np.zeros_like(vm)
for p in j0827_siiv_black:
    comp = lorentz(vm, *p)
    total += comp
    ax.plot(vm, comp, color='k', lw=1.3)
comp = asym_gauss(vm, *j0827_siiv_blue)
total += comp
ax.plot(vm, comp, color='blue', lw=1.3)
total = np.where(vm > j0827_siiv_cut, total, 0.0) + gauss(vm, *j0827_siiv_extra)
ax.plot(vm, total, color='magenta', lw=1.8, ls='--')
line_marks(ax, [('Blue Si IV + O IV]', -2110, 0.2137, 0.193, 'right'),
                ('BC Si IV', 2610, 0.2137, 0.193, 'left')])
axr.plot(np.linspace(vlim[0], vlim[1], len(j0827_siiv_res)), j0827_siiv_res, color='k', lw=1.0)
axr.axhline(0, color='k', ls='--', lw=1.2)

# C IV + He II
ax, axr, vm, vlim = column(1, 1060, 1367, 1429, 0.27, b2_yt)
ax.plot(np.linspace(vlim[0], vlim[1], len(j0827_civ_f)), j0827_civ_f, color='k', lw=1.0)
total = np.zeros_like(vm)
for p in j0827_civ_black:
    comp = lorentz(vm, *p)
    total += comp
    ax.plot(vm, comp, color='k', lw=1.3)
blue = sum(asym_gauss(vm, *p) for p in j0827_civ_blue)
total += blue
ax.plot(vm, blue, color='blue', lw=1.3)
comp = gauss(vm, *j0827_civ_gray)
total += comp
ax.plot(vm, comp, color='gray', lw=1.3)
trans = np.ones_like(vm)
for cen, wid, depth in j0827_civ_abs:
    trans *= 1 - depth * np.exp(-0.5 * ((vm - cen) / wid) ** 2)
ax.plot(vm, total * trans, color='magenta', lw=1.8, ls='--')
line_marks(ax, [('Blue C IV', -2700, 0.246, 0.225, 'right'),
                ('BC C IV', 1100, 0.246, 0.225, 'left'),
                ('Blue He II', 13050, 0.105, 0.084, 'right'),
                ('BC He II', 17660, 0.105, 0.084, 'left')])
axr.plot(np.linspace(vlim[0], vlim[1], len(j0827_civ_res)), j0827_civ_res, color='k', lw=1.0)
axr.axhline(0, color='k', ls='--', lw=1.2)

# C III] blend
ax, axr, vm, vlim = column(2, 1060, 1367, 1429, 0.27, b2_yt)
ax.plot(np.linspace(vlim[0], vlim[1], len(j0827_ciii_f)), j0827_ciii_f, color='k', lw=1.0)
total = np.zeros_like(vm)
for p in j0827_ciii_black:
    comp = lorentz(vm, *p)
    total += comp
    ax.plot(vm, comp, color='k', lw=1.3)
comp = lorentz(vm, *j0827_ciii_red)
total += comp
ax.plot(vm, comp, color='red', lw=1.3)
comp = gauss(vm, *j0827_ciii_gray)
total += comp
ax.plot(vm, comp, color='gray', lw=1.3)
fe = sum(gauss(vm, *p) for p in j0827_ciii_fe)
total += fe
ax.plot(vm, fe, color='#22dd22', lw=1.3, ls='-.')
total += gauss(vm, *j0827_ciii_extra)
ax.plot(vm, total, color='magenta', lw=1.8, ls='--')
line_marks(ax, [('BC Al III', -7880, 0.180, 0.160, 'right'),
                ('BC Si III]', -2760, 0.2295, 0.208, 'right'),
                ('BC C III]', 300, 0.2295, 0.208, 'left'),
                ('Fe III', 4970, 0.159, 0.138, 'left')])
axr.plot(np.linspace(vlim[0], vlim[1], len(j0827_ciii_res)), j0827_ciii_res, color='k', lw=1.0)
axr.axhline(0, color='k', ls='--', lw=1.2)

fig.text(17 / W, 1 - 1050 / H, 'Normalized Flux', rotation=90, ha='center', va='center',
         fontsize=12.5, style='italic')
fig.text(17 / W, 1 - 1398 / H, 'Residuals', rotation=90, ha='center', va='center',
         fontsize=12.5, style='italic')

fig.savefig('out.png', dpi=100)
